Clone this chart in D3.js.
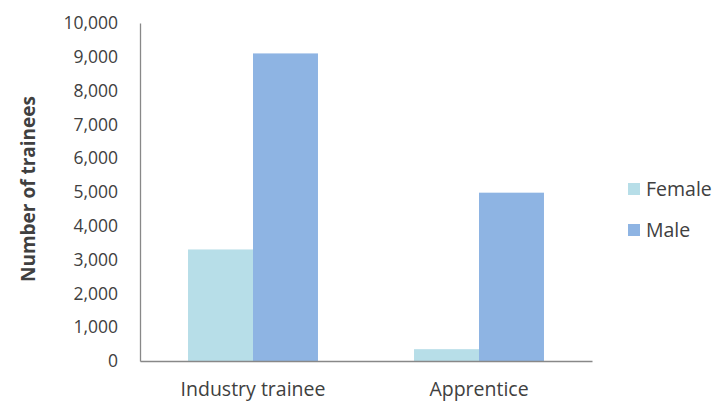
<!DOCTYPE html>
<html>
<head>
<meta charset="utf-8">
<script src="https://cdn.jsdelivr.net/npm/d3@7"></script>
<style>
  body { margin: 0; background: #fff; }
  text { font-family: "Open Sans", sans-serif; fill: #404040; }
</style>
</head>
<body>
<div id="chart"></div>
<script>
// chart data
var categories = ['Industry trainee', 'Apprentice']
var seriesNames = ['Female', 'Male']
var femaleValues = [3300, 350]
var maleValues = [9100, 4980]
var yTicks = [0, 1000, 2000, 3000, 4000, 5000, 6000, 7000, 8000, 9000, 10000]

var color = d3.scaleOrdinal()
    .domain(seriesNames)
    .range(['#b7dee8', '#8eb4e3'])

var W = 715, H = 406
var margin = {top: 23, right: 123, bottom: 45, left: 140},
    width = W - margin.left - margin.right,
    height = H - margin.top - margin.bottom;

var svg = d3.select('#chart')
  .append('svg')
  .attr('width', W)
  .attr('height', H)
  .append('g')
  .attr('transform', 'translate(' + margin.left + ',' + margin.top + ')');

var x0 = d3.scaleBand()
    .domain(categories)
    .range([0, width])
    .paddingInner(0.425)
    .paddingOuter(0.2125)
var x1 = d3.scaleBand()
    .domain(seriesNames)
    .range([0, x0.bandwidth()])
var y = d3.scaleLinear().domain([0, 10000]).range([height, 0])

// build rows for grouped bars
var rows = categories.map(function(c, i) {
  return {cat: c, vals: [
    {name: 'Female', value: femaleValues[i]},
    {name: 'Male', value: maleValues[i]}
  ]}
})

svg.selectAll('.group')
  .data(rows)
  .enter()
  .append('g')
  .attr('class', 'group')
  .attr('transform', function(d) { return 'translate(' + x0(d.cat) + ',0)'; })
  .selectAll('rect')
  .data(function(d) { return d.vals; })
  .enter()
  .append('rect')
  .attr('x', function(d) { return x1(d.name); })
  .attr('width', x1.bandwidth())
  .attr('y', function(d) { return y(d.value); })
  .attr('height', function(d) { return height - y(d.value); })
  .style('fill', function(d) { return color(d.name); })

// y axis
var yAxis = svg.append('g')
  .call(d3.axisLeft(y).tickValues(yTicks).tickSize(0).tickPadding(22).tickFormat(d3.format(',')))
yAxis.select('.domain').attr('stroke', '#888').attr('stroke-width', 1.3)
yAxis.selectAll('text').style('font-size', '17.5px').attr('fill', '#404040')

// x axis
var xAxis = svg.append('g')
  .attr('transform', 'translate(0,' + height + ')')
  .call(d3.axisBottom(x0).tickSize(0).tickPadding(21))
xAxis.select('.domain').attr('stroke', '#888').attr('stroke-width', 1.3)
xAxis.selectAll('text').style('font-size', '19.5px').attr('fill', '#404040')

// axis title
svg.append('text')
  .attr('transform', 'rotate(-90)')
  .attr('x', -166)
  .attr('y', -105)
  .style('text-anchor', 'middle')
  .style('font-size', '19px')
  .style('font-weight', 'bold')
  .text('Number of trainees')

// legend
var legend = svg.selectAll('.legend')
  .data(seriesNames)
  .enter()
  .append('g')
  .attr('class', 'legend')
  .attr('transform', function(d, i) { return 'translate(' + (width + 36) + ',' + (160 + i * 41) + ')'; })

legend.append('rect')
  .attr('width', 12)
  .attr('height', 12)
  .style('fill', function(d) { return color(d); })

legend.append('text')
  .attr('x', 18)
  .attr('y', 6)
  .attr('dy', '.35em')
  .style('font-size', '19.5px')
  .text(function(d) { return d; })
</script>
</body>
</html>
